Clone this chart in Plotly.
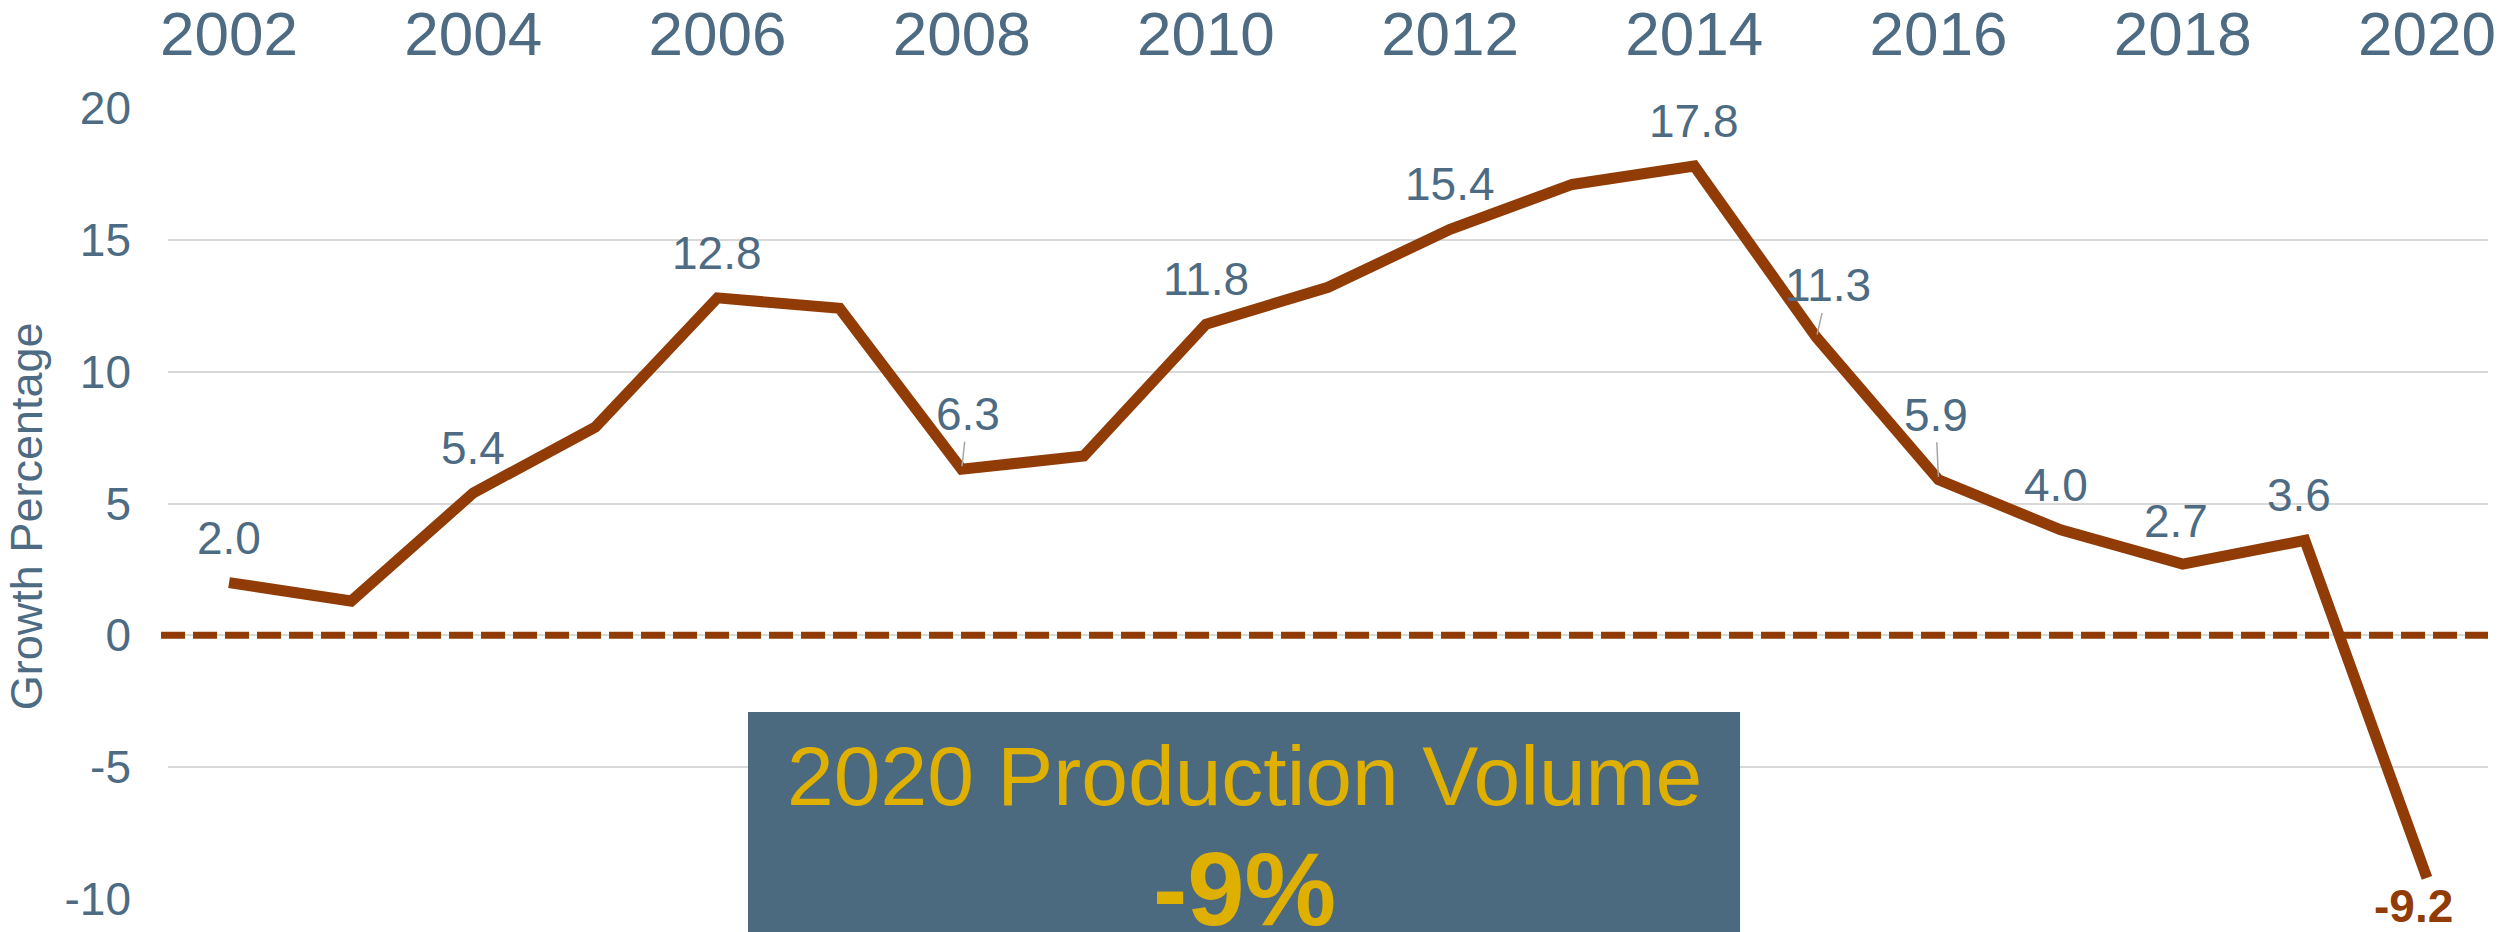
import plotly.graph_objects as go

# Annual growth in production volume (%)
years = list(range(2002, 2021))
growth = [2.0, 1.3, 5.4, 7.9, 12.8, 12.4, 6.3, 6.8, 11.8, 13.2,
          15.4, 17.1, 17.8, 11.3, 5.9, 4.0, 2.7, 3.6, -9.2]

# Years that carry a value label
labelled_years = [2002, 2004, 2006, 2008, 2010, 2012, 2014,
                  2015, 2016, 2017, 2018, 2019, 2020]

x_tick_years = list(range(2002, 2021, 2))
y_ticks = [-10, -5, 0, 5, 10, 15, 20]

y_title = "Growth Percentage"
callout_title = "2020 Production Volume"
callout_value = "-9%"

# Styling
FONT = "Liberation Sans, Arial, sans-serif"
TEXT = "#4D6B82"
LINE = "#913C07"
BOX = "#4B6A7F"
GOLD = "#DFB000"
GRID = "#D9D9D9"
LEADER = "#A6A6A6"

# Label placement: (dx, dy) pixel offset of the label centre from the point,
# and whether a leader line is drawn.  Default sits just above the point.
DEFAULT_OFFSET = (0, -45, False)
label_offsets = {
    2008: (6, -55, True),
    2015: (12, -52, True),
    2016: (-3, -65, True),
    2017: (-5, -45, False),
    2018: (-7, -43, False),
    2019: (-6, -45, False),
    2020: (-13, 28, False),
}

fig = go.Figure()

fig.add_trace(go.Scatter(
    x=years, y=growth, mode="lines",
    line=dict(color=LINE, width=11),
    hoverinfo="skip", showlegend=False,
))

annotations = []
for yr, val in zip(years, growth):
    if yr not in labelled_years:
        continue
    dx, dy, leader = label_offsets.get(yr, DEFAULT_OFFSET)
    negative = val < 0
    font = dict(family=FONT, size=46, color=LINE if negative else TEXT)
    text = f"<b>{val:.1f}</b>" if negative else f"{val:.1f}"
    if leader:
        annotations.append(dict(
            x=yr, y=val, xref="x", yref="y", text=text, font=font,
            showarrow=True, arrowhead=0, arrowwidth=1.5, arrowcolor=LEADER,
            ax=dx, ay=dy, axref="pixel", ayref="pixel", standoff=3,
        ))
    else:
        annotations.append(dict(
            x=yr, y=val, xref="x", yref="y", text=text, font=font,
            showarrow=False, xanchor="center", yanchor="middle",
            xshift=dx, yshift=-dy,
        ))

# Axis title
annotations.append(dict(
    x=-0.0612, y=0.484, xref="paper", yref="paper", text=y_title,
    textangle=-90, showarrow=False, xanchor="center", yanchor="middle",
    font=dict(family=FONT, size=45, color=TEXT),
))

# Callout box text
annotations.append(dict(
    x=0.4638, y=0.1555, xref="paper", yref="paper", text=callout_title,
    showarrow=False, xanchor="center", yanchor="middle",
    font=dict(family=FONT, size=84, color=GOLD),
))
annotations.append(dict(
    x=0.4638, y=0.0114, xref="paper", yref="paper",
    text=f"<b>{callout_value}</b>",
    showarrow=False, xanchor="center", yanchor="middle",
    font=dict(family=FONT, size=103, color=GOLD),
))

shapes = [
    # Dashed zero reference line
    dict(type="line", xref="paper", yref="y", x0=-0.003, x1=1.0, y0=0, y1=0,
         line=dict(color=LINE, width=7, dash="24px,8px"), layer="above"),
    # Callout box
    dict(type="rect", xref="paper", yref="paper",
         x0=0.2500, x1=0.6776, y0=-0.1, y1=0.2364,
         fillcolor=BOX, line=dict(width=0), layer="above"),
]

fig.update_layout(
    width=2501, height=932,
    margin=dict(l=168, r=13, t=108, b=33),
    paper_bgcolor="white", plot_bgcolor="white",
    font=dict(family=FONT, color=TEXT),
    annotations=annotations, shapes=shapes,
    showlegend=False,
    xaxis=dict(
        range=[2001.5, 2020.5], side="top",
        tickmode="array", tickvals=x_tick_years,
        ticktext=[str(v) for v in x_tick_years],
        tickfont=dict(family=FONT, size=62, color=TEXT),
        showgrid=False, zeroline=False, showline=False, ticks="",
        ticklabelstandoff=40, ticklabeloverflow="allow",
        automargin=False,
    ),
    yaxis=dict(
        range=[-10, 20],
        tickmode="array", tickvals=y_ticks,
        ticktext=[str(v) for v in y_ticks],
        tickfont=dict(family=FONT, size=46, color=TEXT),
        showgrid=True, gridcolor=GRID, gridwidth=2,
        zeroline=False, showline=False, ticks="",
        ticklabelstandoff=36, automargin=False,
    ),
)

fig.write_html("out.html")
